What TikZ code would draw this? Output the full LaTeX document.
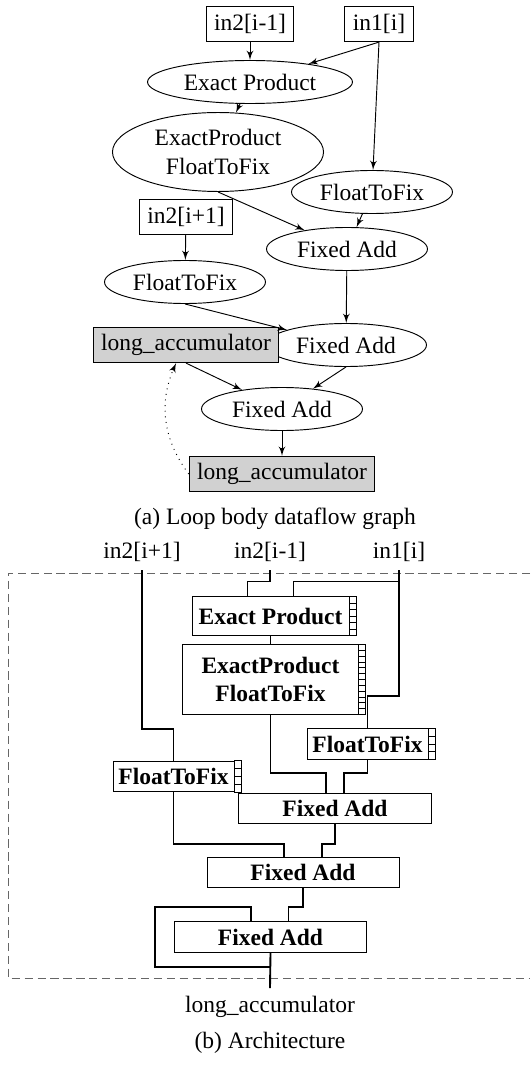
\documentclass[tikz,border=0pt]{standalone}
\usepackage{fontspec}
\setmainfont{Liberation Serif}
\usepackage{tikz}
\usetikzlibrary{arrows,shapes.geometric,positioning,calc}

\tikzstyle{op} = [ellipse, draw, align=center, inner sep=1pt,
    minimum width=68.5pt, minimum height=18.3pt]
\tikzstyle{port} = [rectangle, draw, inner xsep=3.4pt, inner ysep=2pt,
    minimum height=15pt]
\tikzstyle{acc} = [port, fill=black!18]
\tikzstyle{line} = [draw, -latex']
\tikzstyle{unit} = [rectangle, draw, font=\bfseries, align=center,
    inner sep=1pt, minimum height=13pt]
\tikzstyle{wire} = [draw, thick]

% register stages on the right side of a unit
\newcommand{\pipestages}[2]{%
  \draw[thin] (#1.north east) -- ++(3pt,0) |- (#1.south east);
  \foreach \k in {1,...,#2}
    \draw[thin] ($(#1.north east)!{\k/#2}!(#1.south east)$) -- ++(3pt,0);
}

\begin{document}
\begin{tikzpicture}[x=0.4255pt, y=-0.4255pt]
        \useasboundingbox (0,0) rectangle (530,1065);
        % (a) dataflow graph
        \node [port] (in2m) at (250,24) {in2[i-1]};
        \node [port] (in1) at (379,24) {in1[i]};
        \node [op, minimum width=87.2pt] (ep) at (250,82) {Exact Product};
        \node [op, minimum width=89.8pt, minimum height=33.6pt] (epf) at (218,152) {ExactProduct\\FloatToFix};
        \node [op] (f2fR) at (372,192) {FloatToFix};
        \node [port] (in2p) at (186,217) {in2[i+1]};
        \node [op] (fa1) at (347,249) {Fixed Add};
        \node [op] (f2fL) at (185,282) {FloatToFix};
        \node [op] (fa2) at (346,345) {Fixed Add};
        \node [acc] (acc) at (186,345) {long\_accumulator};
        \node [op] (fa3) at (282,409) {Fixed Add};
        \node [acc] (accout) at (282,474) {long\_accumulator};
        \node (capa) at (275,519) {(a) Loop body dataflow graph};
        % edges
        \path [line] (in2m) -- (ep);
        \path [line] (in1.south) -- (ep);
        \path [line] (in1.south) -- (f2fR);
        \path [line] (ep) -- (epf);
        \path [line] (epf.south) -- (fa1);
        \path [line] (f2fR) -- (fa1);
        \path [line] (in2p) -- (f2fL);
        \path [line] (fa1) -- (fa2);
        \path [line] (f2fL.south) -- (fa2);
        \path [line] (acc.south) -- (fa3);
        \path [line] (fa2.south) -- (fa3);
        \path [line] (fa3) -- (accout);
        \path [line, dotted] (accout.west) to[bend left=30] (acc);

        % (b) architecture
        \draw [dash pattern=on 3.5pt off 2pt, black!60] (530,573) -- (8,573) -- (8,978) -- (530,978);
        \node (bin2p) at (142,552) {in2[i+1]};
        \node (bin2m) at (270,552) {in2[i-1]};
        \node (bin1) at (399,552) {in1[i]};
        \node [unit, minimum width=66.8pt, minimum height=16.2pt] (bep) at (270.5,616) {Exact Product};
        \node [unit, minimum width=74.5pt, minimum height=29.4pt] (bepf) at (270.5,679.5) {ExactProduct\\FloatToFix};
        \node [unit, minimum width=51.5pt] (bf2fR) at (367.5,744) {FloatToFix};
        \node [unit, minimum width=51.5pt] (bf2fL) at (173.5,776.5) {FloatToFix};
        \node [unit, minimum width=82.5pt] (bfa1) at (335,808.5) {Fixed Add};
        \node [unit, minimum width=81.7pt] (bfa2) at (303,872.5) {Fixed Add};
        \node [unit, minimum width=82pt] (bfa3) at (270.5,937) {Fixed Add};
        \node (bacc) at (270,1007) {long\_accumulator};
        \node (capb) at (270,1043) {(b) Architecture};
        \pipestages{bep}{6}
        \pipestages{bepf}{12}
        \pipestages{bf2fR}{4}
        \pipestages{bf2fL}{4}
        % wires
        \path [wire] (bin2p.south) |- ($(bf2fL.north)+(0,-32)$) -- (bf2fL.north);
        \path [wire] (bin2m.south) |- ($(bep.north)+(-23,-15)$) -- ($(bep.north)+(-23,0)$);
        \path [wire] (bin1.south) |- ($(bep.north)+(23,-15)$) -- ($(bep.north)+(23,0)$);
        \path [wire] (bin1.south) |- ($(bf2fR.north)+(0,-32)$) -- (bf2fR.north);
        \path [wire] (bep) -- (bepf);
        \path [wire] (bepf.south) |- ($(bfa1.north)+(-9,-20)$) -- ($(bfa1.north)+(-9,0)$);
        \path [wire] (bf2fR.south) |- ($(bfa1.north)+(9,-20)$) -- ($(bfa1.north)+(9,0)$);
        \path [wire] (bf2fL.south) |- ($(bfa2.north)+(-19,-13)$) -- ($(bfa2.north)+(-19,0)$);
        \path [wire] (bfa1.south) |- ($(bfa2.north)+(19,-13)$) -- ($(bfa2.north)+(19,0)$);
        \path [wire] (bfa2.south) |- ($(bfa3.north)+(18,-14)$) -- ($(bfa3.north)+(18,0)$);
        \path [wire] (bfa3.south) -- ++(0,14) -| ($(bfa3.north)+(-115.5,-14)$) -| ($(bfa3.north)+(-19.5,0)$);
        \path [wire] (bfa3.south) -- (bacc.north);
    \end{tikzpicture}
\end{document}
